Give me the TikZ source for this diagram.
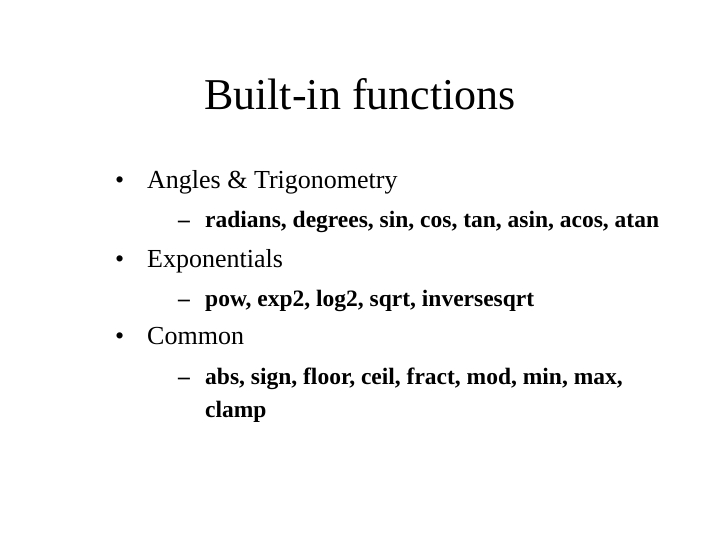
\documentclass[tikz,border=0pt]{standalone}
\usepackage{fontspec}
\setmainfont{Liberation Serif}
\begin{document}
\begin{tikzpicture}[x=1pt,y=-1pt,
  ttl/.style={anchor=base,font=\fontsize{44}{48}\selectfont,inner sep=0},
  lvone/.style={anchor=base west,font=\fontsize{26}{30}\selectfont,inner sep=0},
  lvtwo/.style={anchor=base west,font=\bfseries\fontsize{23.5}{28}\selectfont,inner sep=0}]
\useasboundingbox (0,0) rectangle (720,540);
\node[ttl] (t) at (360,110) {Built-in functions};
\node[lvone] (b1) at (115,189) {•};
\node[lvone] (a1) at (147,189) {Angles \& Trigonometry};
\node[lvtwo] (d1) at (178,228) {–};
\node[lvtwo] (s1) at (205,228) {radians, degrees, sin, cos, tan, asin, acos, atan};
\node[lvone] (b2) at (115,267) {•};
\node[lvone] (a2) at (147,267) {Exponentials};
\node[lvtwo] (d2) at (178,306) {–};
\node[lvtwo] (s2) at (205,306) {pow, exp2, log2, sqrt, inversesqrt};
\node[lvone] (b3) at (115,344) {•};
\node[lvone] (a3) at (147,344) {Common};
\node[lvtwo] (d3) at (178,384) {–};
\node[lvtwo] (s3) at (205,384) {abs, sign, floor, ceil, fract, mod, min, max,};
\node[lvtwo] (s4) at (205,417) {clamp};
\end{tikzpicture}
\end{document}
